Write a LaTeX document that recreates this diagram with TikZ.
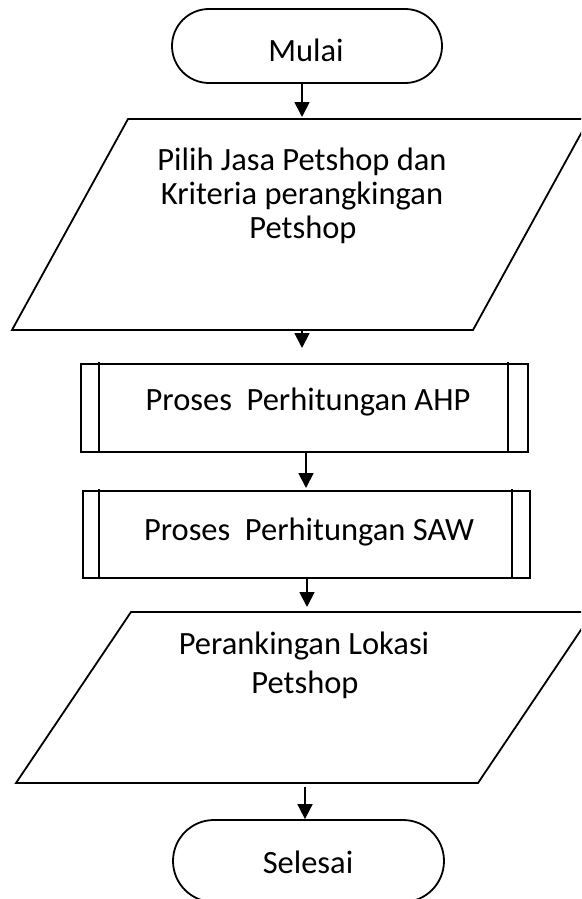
\documentclass[tikz,border=0pt]{standalone}
\usepackage{fontspec}
\setmainfont{Carlito}
\usetikzlibrary{arrows.meta,shapes.misc}

\begin{document}
\begin{tikzpicture}[x=1pt,y=-1pt,
  outline/.style={draw=black,line width=1.8pt},
  flow/.style={draw=black,line width=1.8pt,-{Triangle[width=15pt,length=15pt]}},
  lbl/.style={font=\fontsize{32.5}{34}\selectfont,anchor=base,inner sep=0pt},
  terminal/.style={outline,rounded rectangle,inner sep=0pt},
  procbox/.style={outline,rectangle,inner sep=0pt}]
\useasboundingbox (0,0) rectangle (581,899);
\begin{scope}
\clip (0,0) rectangle (581,899);

% start terminal
\node[terminal,minimum width=270pt,minimum height=74pt] (mulai) at (307,46) {};
\node[lbl] (mulaitxt) at (306,62) {Mulai};

% input: choose petshop and criteria
\draw[outline] (128,119) -- (589,119) -- (473,330) -- (12,330) -- cycle;
\coordinate (in1top) at (302,119);
\coordinate (in1bot) at (302,330);
\node[lbl] (in1a) at (302,170) {Pilih Jasa Petshop dan};
\node[lbl] (in1b) at (302,204) {Kriteria perangkingan};
\node[lbl] (in1c) at (303,238) {Petshop};

% predefined process: AHP
\node[procbox,minimum width=447pt,minimum height=88pt] (ahp) at (304.5,408) {};
\draw[outline] (99,362) -- (99,452);
\draw[outline] (508,362) -- (508,452);
\node[lbl] (ahptxt) at (308,410) {Proses\hspace{0.45em}Perhitungan AHP};

% predefined process: SAW
\node[procbox,minimum width=447pt,minimum height=87pt] (saw) at (306.5,534.5) {};
\draw[outline] (99,489) -- (99,577);
\draw[outline] (512,489) -- (512,578);
\node[lbl] (sawtxt) at (309,540) {Proses\hspace{0.45em}Perhitungan SAW};

% output: ranking
\draw[outline] (131,612) -- (593,612) -- (478,783) -- (16,783) -- cycle;
\coordinate (in2top) at (307,612);
\coordinate (in2bot) at (305,783);
\node[lbl] (in2a) at (304,654) {Perankingan Lokasi};
\node[lbl] (in2b) at (305,693) {Petshop};

% end terminal
\node[terminal,minimum width=271pt,minimum height=82pt] (selesai) at (308.5,861) {};
\node[lbl] (selesaitxt) at (308,873) {Selesai};

% connectors
\coordinate (tipA) at (302,348);
\coordinate (tipB) at (306,488);
\draw[flow] (mulai.south -| in1top) -- ([yshift=2pt]in1top);
\draw[flow] (in1bot) -- (tipA);
\draw[flow] (ahp.south -| tipB) -- (tipB);
\draw[flow] (saw.south -| in2top) -- ([yshift=5pt]in2top);
\draw[flow] ([yshift=-4pt]in2bot) -- (in2bot |- selesai.north);
\end{scope}
\end{tikzpicture}
\end{document}
